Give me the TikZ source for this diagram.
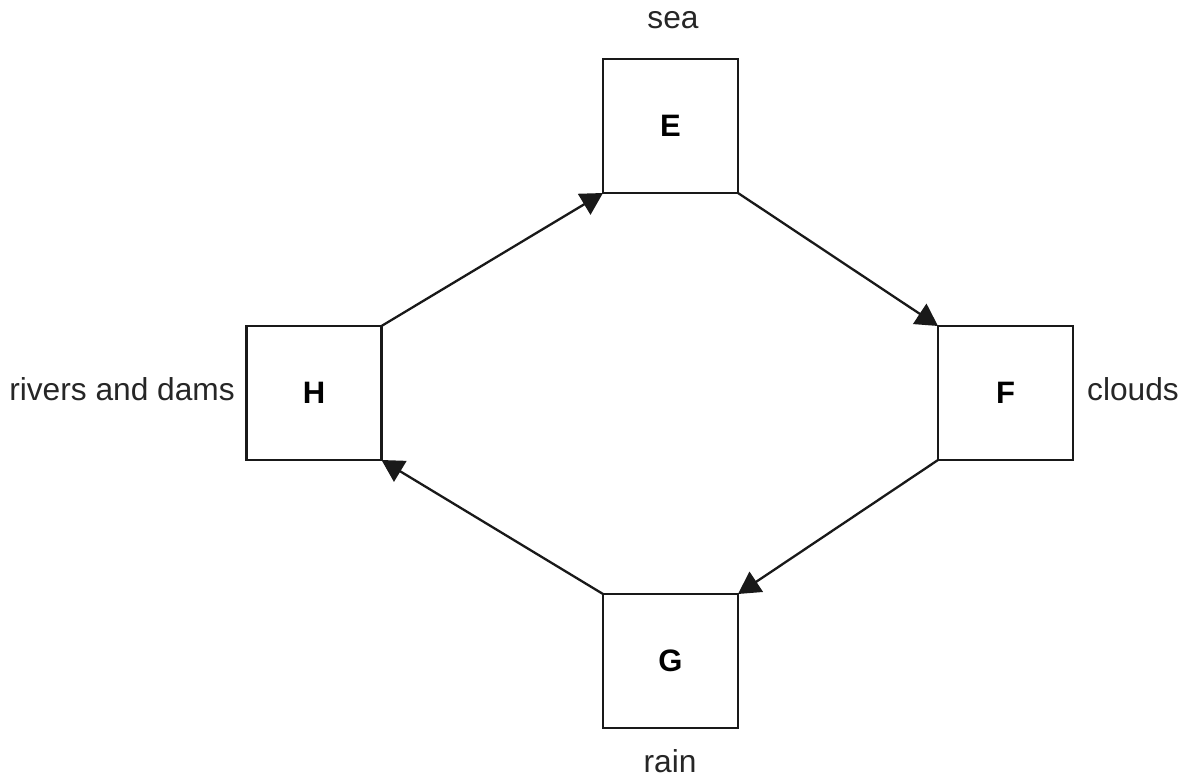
\documentclass[tikz,border=0pt]{standalone}
\usepackage{fontspec}
\setmainfont{Liberation Sans}
\usetikzlibrary{arrows.meta}
\begin{document}
\begin{tikzpicture}[x=1pt,y=-1pt,
  box/.style={draw=black!90, line width=2.8pt, minimum width=135pt, minimum height=134pt, inner sep=0pt, outer sep=0pt, font=\fontsize{31}{36}\selectfont\bfseries},
  lbl/.style={inner sep=0pt, font=\fontsize{31.7}{36}\selectfont, text=black!85},
  conn/.style={line width=2.3pt, draw=black!90, -{Triangle[length=22pt,width=24pt]}}]
\useasboundingbox (0,0) rectangle (1182,778);
\node[box] (E) at (670.5,126) {E};
\node[box] (F) at (1005.5,393) {F};
\node[box] (H) at (314,393) {H};
\node[box] (G) at (670.5,661) {G};
\node[lbl, anchor=base] (sea) at (673,29) {sea};
\node[lbl, anchor=base west] (clouds) at (1087,400) {clouds};
\node[lbl, anchor=base east] (rivers) at (235,400) {rivers and dams};
\node[lbl, anchor=base] (rain) at (670,772) {rain};
\draw[conn] (H.north east) -- (E.south west);
\draw[conn] (E.south east) -- (F.north west);
\draw[conn] (F.south west) -- (G.north east);
\draw[conn] (G.north west) -- (H.south east);
\end{tikzpicture}
\end{document}
